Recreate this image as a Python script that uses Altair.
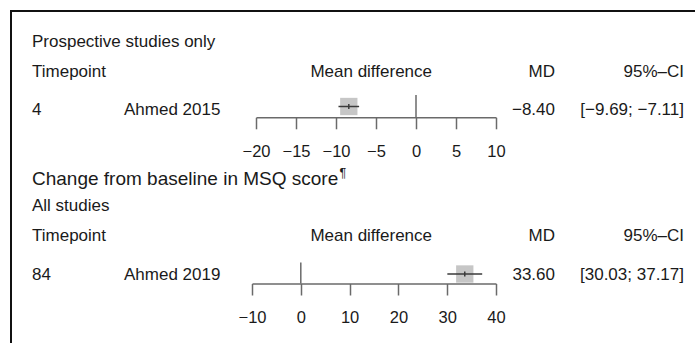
import altair as alt
import pandas as pd

# Forest-plot content
panel_titles = ["Prospective studies only", "All studies"]
section_title = "Change from baseline in MSQ score"
timepoints = [4, 84]
studies = ["Ahmed 2015", "Ahmed 2019"]
md = [-8.40, 33.60]
ci_lower = [-9.69, 30.03]
ci_upper = [-7.11, 37.17]
axis_domains = [[-20, 10], [-10, 40]]
axis_ticks = [[-20, -15, -10, -5, 0, 5, 10], [-10, 0, 10, 20, 30, 40]]

FONT = "Liberation Sans"
TXT = "#1a1a1a"
AX = "#6a6a6a"
W, H = 695, 343
FS = 17


def fmt(v):
    return f"{v:.2f}".replace("-", "\u2212")


def txt(s, x, y, align="left", size=FS):
    return alt.Chart(pd.DataFrame({"t": [s]})).mark_text(
        align=align, baseline="alphabetic", fontSize=size, font=FONT, color=TXT
    ).encode(x=alt.value(x), y=alt.value(y), text="t:N")


def forest(i, x_range, axis_y, row_y, zero_top):
    df = pd.DataFrame({"md": [md[i]], "lo": [ci_lower[i]], "hi": [ci_upper[i]]})
    sc = alt.Scale(domain=axis_domains[i], range=x_range, nice=False, zero=False)
    axis = alt.Axis(
        values=axis_ticks[i], orient="bottom", offset=axis_y - H, title=None,
        grid=False, domainColor=AX, domainWidth=1.5, tickColor=AX, tickWidth=1.5,
        tickSize=11.5, labelFont=FONT, labelFontSize=16.5, labelColor=TXT,
        labelBaseline="alphabetic", labelPadding=27.5, labelFlush=False,
        labelOverlap=False,
    )
    base = alt.Chart(df)
    zero = alt.Chart(pd.DataFrame({"z": [0]})).mark_rule(
        color=AX, strokeWidth=1.5
    ).encode(x=alt.X("z:Q", scale=sc, axis=axis), y=alt.value(zero_top), y2=alt.value(axis_y))
    sq = base.mark_square(size=300, color="#c6c6c6", opacity=1).encode(
        x=alt.X("md:Q", scale=sc, axis=axis), y=alt.value(row_y)
    )
    ci = base.mark_rule(color="#3a3a3a", strokeWidth=1.5).encode(
        x=alt.X("lo:Q", scale=sc, axis=axis), x2="hi:Q", y=alt.value(row_y)
    )
    dot = base.mark_rule(color="#3a3a3a", strokeWidth=1.5).encode(
        x=alt.X("md:Q", scale=sc, axis=axis), y=alt.value(row_y - 2.5), y2=alt.value(row_y + 2.5)
    )
    return alt.layer(zero, sq, ci, dot)


border = alt.Chart(pd.DataFrame({"a": [0]})).mark_rect(
    fill=None, stroke="#111111", strokeWidth=2
).encode(x=alt.value(11), y=alt.value(11), x2=alt.value(W + 40), y2=alt.value(H + 40))

layers = [border]

# Panel 1
layers += [
    txt(panel_titles[0], 32, 46.5),
    txt("Timepoint", 32, 76.5),
    txt("Mean difference", 432, 76.5, align="right"),
    txt("MD", 555, 76.5, align="right"),
    txt("95%\u2013CI", 684, 76.5, align="right"),
    txt(str(timepoints[0]), 32, 115),
    txt(studies[0], 124, 115),
    txt(fmt(md[0]), 555, 115, align="right"),
    txt(f"[{fmt(ci_lower[0])}; {fmt(ci_upper[0])}]", 684, 115, align="right"),
]

# Section heading and panel 2
layers += [
    txt(section_title, 32, 185, size=19),
    txt("\u00b6", 339.5, 176.5, size=12.5),
    txt(panel_titles[1], 32, 211),
    txt("Timepoint", 32, 241),
    txt("Mean difference", 432, 241, align="right"),
    txt("MD", 555, 241, align="right"),
    txt("95%\u2013CI", 684, 241, align="right"),
    txt(str(timepoints[1]), 32, 280),
    txt(studies[1], 124, 280),
    txt(fmt(md[1]), 555, 280, align="right"),
    txt(f"[{fmt(ci_lower[1])}; {fmt(ci_upper[1])}]", 684, 280, align="right"),
]

p1 = forest(0, [256, 496], 117.3, 106.5, 95)
p2 = forest(1, [252, 496], 283.5, 274, 262.5)

chart = alt.layer(*layers, p1, p2).resolve_scale(x="independent").properties(
    width=W, height=H, padding=0, autosize=alt.AutoSizeParams(type="none"),
    background="white",
).configure_view(stroke=None)

chart.save("out.html", embed_options={"renderer": "svg", "actions": False})
